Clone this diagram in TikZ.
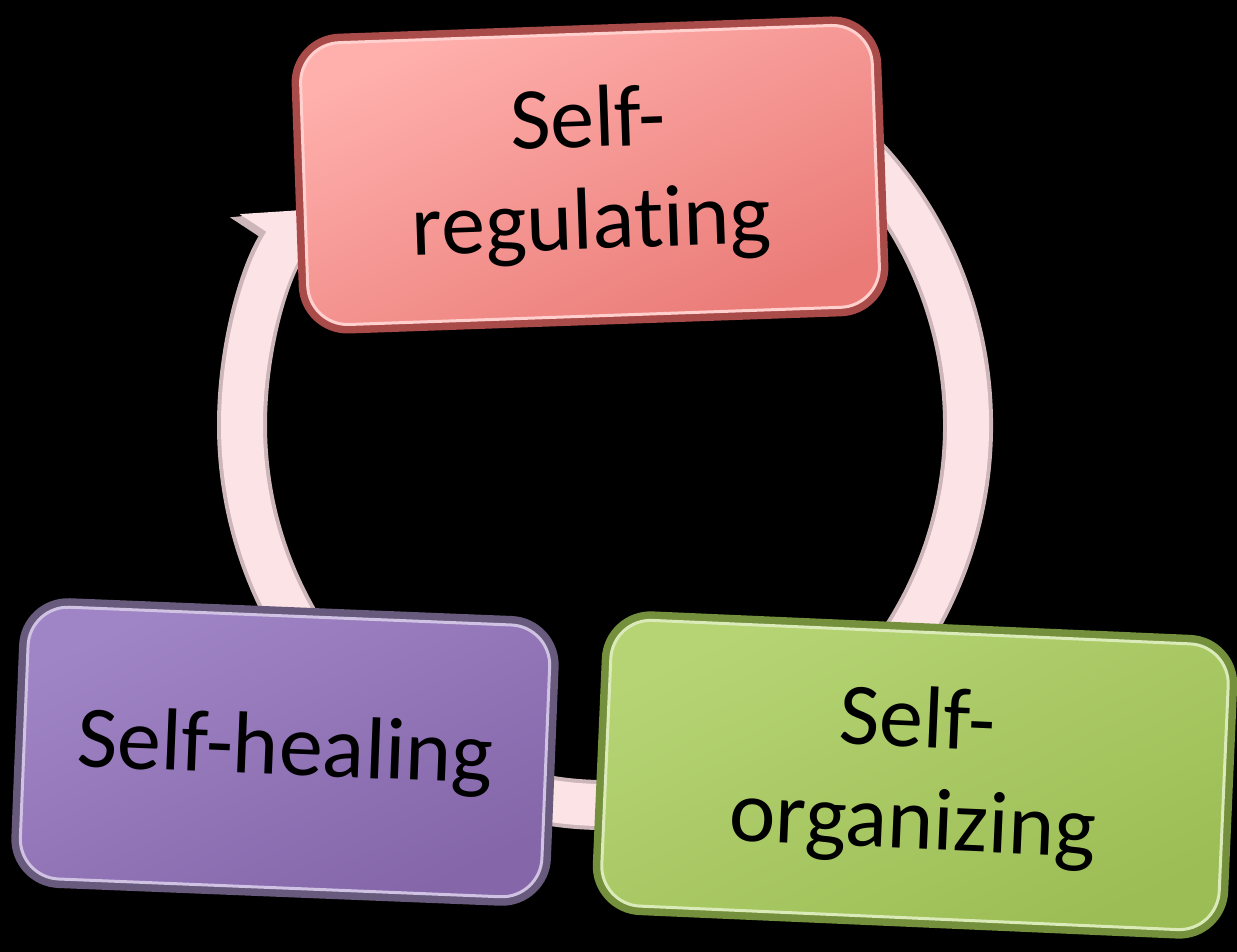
\documentclass[tikz,border=0pt]{standalone}
\usepackage{fontspec}
\setmainfont{Carlito}[Ligatures=NoCommon]
\usepackage{tikz}
\usetikzlibrary{positioning, arrows.meta, shapes, calc}
\usepackage{xcolor}

\definecolor{ringpink}{HTML}{FCE3E6}
\definecolor{ringedge}{HTML}{CDB6BA}
\definecolor{redtop}{HTML}{FFB0AD}
\definecolor{redbot}{HTML}{EA7B77}
\definecolor{redrim}{HTML}{A94B49}
\definecolor{purpletop}{HTML}{A085C6}
\definecolor{purplebot}{HTML}{8466A9}
\definecolor{purplerim}{HTML}{675A7C}
\definecolor{greentop}{HTML}{B6D474}
\definecolor{greenbot}{HTML}{9CBD55}
\definecolor{greenrim}{HTML}{74903C}

\begin{document}
\begin{tikzpicture}[x=0.5pt, y=0.5pt,
  stagebox/.style={rectangle, rounded corners=20pt, align=center, inner sep=0pt,
    font=\fontsize{44}{51}\selectfont, line width=1.5pt},
  ringline/.style={line width=#1}]
% Background
\fill[black] (0,0) rectangle (1237,952);
\useasboundingbox (0,0) rectangle (1237,952);

% Ring
\coordinate (hub) at (605,527);
\draw[ringedge, ringline=25pt, -{Triangle[length=24pt,width=58pt]}] ($(hub)+(60:363 and 380)$) arc[start angle=60, end angle=-214.5, x radius=363, y radius=380];
\draw[ringpink, ringline=21pt, -{Triangle[length=20pt,width=52pt]}] ($(hub)+(60:363 and 380)$) arc[start angle=60, end angle=-214.5, x radius=363, y radius=380];

% Stages
\node[stagebox, top color=redtop, bottom color=redbot, shading angle=25, draw=redtop!60!white,
  preaction={draw=redrim, line width=9pt}, minimum width=286pt, minimum height=141pt, rotate=2]
  (regulating) at (590,777) {Self-\\regulating};
\node[stagebox, top color=purpletop, bottom color=purplebot, shading angle=25, draw=purpletop!50!white,
  preaction={draw=purplerim, line width=9pt}, minimum width=261pt, minimum height=136pt, rotate=-2.3]
  (healing) at (285,200) {Self-healing};
\node[stagebox, top color=greentop, bottom color=greenbot, shading angle=25, draw=greentop!50!white,
  preaction={draw=greenrim, line width=9pt}, minimum width=309pt, minimum height=143pt, rotate=-2.5]
  (organizing) at (915,177) {Self-\\organizing};
\end{tikzpicture}
\end{document}
